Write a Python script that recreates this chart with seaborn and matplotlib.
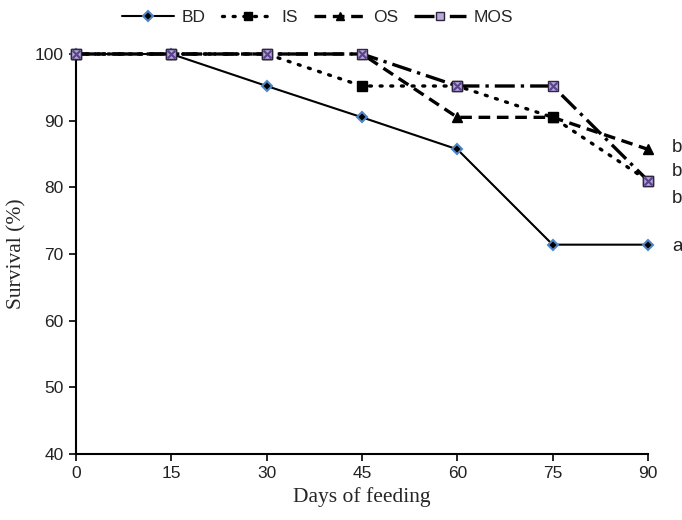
import matplotlib
matplotlib.use("Agg")
import matplotlib.pyplot as plt
import seaborn as sns
import pandas as pd

days = [0, 15, 30, 45, 60, 75, 90]
bd = [100, 100, 95.2, 90.5, 85.7, 71.4, 71.4]
is_ = [100, 100, 100, 95.2, 95.2, 90.5, 81.0]
os_ = [100, 100, 100, 100, 90.5, 90.5, 85.7]
mos = [100, 100, 100, 100, 95.2, 95.2, 81.0]
series_names = ["BD", "IS", "OS", "MOS"]
sig_labels = ["b", "b", "b", "a"]
sig_y = [86.0, 82.3, 78.3, 71.1]
yticks = [40, 50, 60, 70, 80, 90, 100]
xticks = [0, 15, 30, 45, 60, 75, 90]

sns.set_theme(style="ticks")
plt.rcParams['font.family'] = ['Liberation Sans', 'DejaVu Sans']

df = pd.DataFrame({
    "day": days * 4,
    "survival": bd + is_ + os_ + mos,
    "group": sum([[n] * len(days) for n in series_names], []),
})

fig = plt.figure(figsize=(6.82, 5.2), dpi=100)
ax = fig.add_axes([76 / 682, 1 - 454 / 520, (648 - 76) / 682, (454 - 54) / 520])

styles = {
    "BD": dict(color="black", lw=1.5, ls="-", marker="D", ms=5.5,
               mfc="black", mec="#4f86c6", mew=1.5),
    "IS": dict(color="black", lw=2.4, ls=(0, (0.6, 2.6)), marker="s", ms=7.5,
               mfc="black", mec="black", mew=1),
    "OS": dict(color="black", lw=2.4, ls=(0, (3.5, 2)), marker="^", ms=7.5,
               mfc="black", mec="black", mew=1),
    "MOS": dict(color="black", lw=2.4, ls=(0, (6, 1.8, 1, 1.8)), marker="s", ms=7.5,
                mfc="#b9abd6", mec="#2e2640", mew=1),
}

for name in series_names:
    sub = df[df["group"] == name]
    st = styles[name]
    sns.lineplot(data=sub, x="day", y="survival", ax=ax, color=st["color"],
                 linewidth=st["lw"], linestyle=st["ls"], marker=st["marker"],
                 markersize=st["ms"], markerfacecolor=st["mfc"],
                 markeredgecolor=st["mec"], markeredgewidth=st["mew"],
                 dash_capstyle="round" if name == "IS" else "butt",
                 clip_on=False, zorder=3, label=name)
    if name == "MOS":
        sns.scatterplot(data=sub, x="day", y="survival", ax=ax, marker="x",
                        color="#5b4390", s=32, linewidth=1.6, zorder=5,
                        clip_on=False, legend=False)

for line in ax.lines:
    line.set_clip_on(False)

ax.set_xlim(0, 90)
ax.set_ylim(40, 100)
ax.set_xticks(xticks)
ax.set_yticks(yticks)
ax.tick_params(axis="both", labelsize=12.5, length=5, width=1.2, direction="out",
               color="black", labelcolor="#222222", pad=4)
for s in ["top", "right"]:
    ax.spines[s].set_visible(False)
for s in ["left", "bottom"]:
    ax.spines[s].set_linewidth(1.5)
    ax.spines[s].set_color("black")

ax.set_xlabel("Days of feeding", family="Liberation Serif", fontsize=15.5, labelpad=4)
ax.set_ylabel("Survival (%)", family="Liberation Serif", fontsize=15.5, labelpad=6)

for lab, yv in zip(sig_labels, sig_y):
    ax.text(93.8, yv, lab, fontsize=13.5, va="center", ha="left", color="#222222",
            clip_on=False)

h, l = ax.get_legend_handles_labels()
ax.legend(h, l, loc="center", bbox_to_anchor=(0.466, 0.967),
          bbox_transform=fig.transFigure, ncol=4, frameon=False, fontsize=12.5,
          handlelength=3.0, handletextpad=0.45, columnspacing=0.9, markerscale=0.85)

fig.savefig("out.png", dpi=100)
